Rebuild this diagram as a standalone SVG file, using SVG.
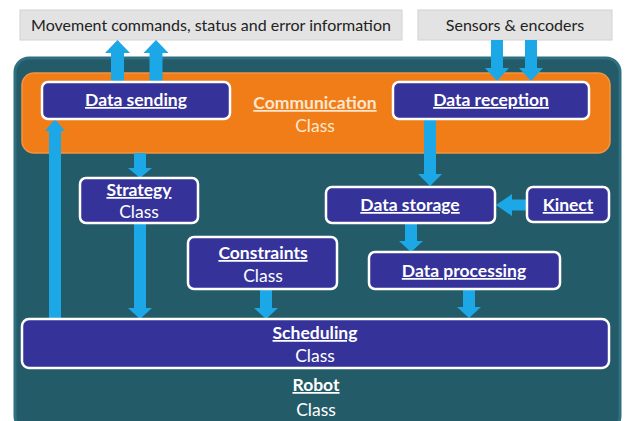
<svg xmlns="http://www.w3.org/2000/svg" width="626" height="421" viewBox="0 0 626 421">
<style>
text{font-family:Lato,"Open Sans","Liberation Sans",sans-serif;text-anchor:middle}
.gray{fill:#e3e3e3;stroke:#d2d2d2;stroke-width:1}
.gt{font-size:16px;fill:#222}
.box{fill:#35329a;stroke:#ffffff;stroke-width:2.5}
.t{font-size:17.5px;font-weight:bold;fill:#ffffff;text-decoration:underline}
.c{font-size:17.5px;fill:#ffffff}
.arr{fill:#1ca8e6}
</style>
<rect width="626" height="421" fill="#ffffff"/>
<g id="movement">
<rect class="gray" x="20" y="10" width="382" height="30"/>
<text class="gt" x="211" y="31">Movement commands, status and error information</text>
</g>
<g id="sensors">
<rect class="gray" x="418" y="10" width="194" height="30"/>
<text class="gt" x="515" y="31">Sensors &amp; encoders</text>
</g>
<g id="robot">
<rect x="15" y="58" width="605" height="372" rx="14" fill="#245b69" stroke="#2e7080" stroke-width="3"/>
<text class="t" x="316" y="391">Robot</text>
<text class="c" x="316" y="416">Class</text>
</g>
<g id="communication">
<rect x="22" y="73" width="588" height="80" rx="12" fill="#f07d17" stroke="#f39440" stroke-width="1.5"/>
<text class="t" x="315" y="109" style="fill:#fde6cf">Communication</text>
<text class="c" x="315" y="132" style="fill:#fde6cf">Class</text>
</g>
<g id="connectors">
<path class="arr" d="M111,82 V53 H105 L117.5,40 L130,53 H124 V82 Z"/>
<path class="arr" d="M149.5,82 V53 H143.5 L156,40 L168.5,53 H162.5 V82 Z"/>
<path class="arr" d="M491,40 V68 H485 L497,81 L509,68 H503 V40 Z"/>
<path class="arr" d="M525,40 V68 H519 L531,81 L543,68 H537 V40 Z"/>
<path class="arr" d="M49,319 V131 H45 L55,119 L65,131 H61 V319 Z"/>
<path class="arr" d="M134,153 V168 H128 L140,178 L152,168 H146 V153 Z"/>
<path class="arr" d="M134,223 V308 H128 L140,319 L152,308 H146 V223 Z"/>
<path class="arr" d="M424,119 V174 H418 L430,186 L442,174 H436 V119 Z"/>
<path class="arr" d="M527,199.5 H512 V194 L496,205 L512,216 V210.5 H527 Z"/>
<path class="arr" d="M405,223 V241 H399 L411,252 L423,241 H417 V223 Z"/>
<path class="arr" d="M260,290 V308 H254 L266,319 L278,308 H272 V290 Z"/>
<path class="arr" d="M463,290 V307 H457 L469,318 L481,307 H475 V290 Z"/>
</g>
<g id="data-sending">
<rect class="box" x="42" y="82" width="188" height="37" rx="6"/>
<text class="t" x="136" y="106">Data sending</text>
</g>
<g id="data-reception">
<rect class="box" x="393" y="82" width="196" height="37" rx="6"/>
<text class="t" x="491" y="106">Data reception</text>
</g>
<g id="strategy">
<rect class="box" x="80" y="178" width="118" height="45" rx="6"/>
<text class="t" x="139" y="196">Strategy</text>
<text class="c" x="139" y="218">Class</text>
</g>
<g id="data-storage">
<rect class="box" x="326" y="187" width="169" height="36" rx="6"/>
<text class="t" x="410" y="211">Data storage</text>
</g>
<g id="kinect">
<rect class="box" x="527" y="187" width="82" height="35" rx="6"/>
<text class="t" x="568" y="211">Kinect</text>
</g>
<g id="constraints">
<rect class="box" x="188" y="237" width="149" height="52" rx="6"/>
<text class="t" x="263" y="259">Constraints</text>
<text class="c" x="263" y="282">Class</text>
</g>
<g id="data-processing">
<rect class="box" x="369" y="252" width="191" height="37" rx="6"/>
<text class="t" x="464" y="277">Data processing</text>
</g>
<g id="scheduling">
<rect class="box" x="22" y="319" width="587" height="49" rx="7"/>
<text class="t" x="315" y="339">Scheduling</text>
<text class="c" x="315" y="362">Class</text>
</g>
</svg>
